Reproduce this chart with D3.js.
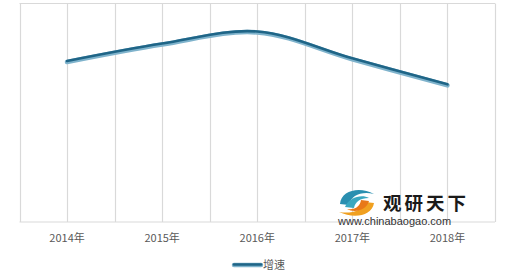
<!DOCTYPE html>
<html><head><meta charset="utf-8">
<script src="https://cdn.jsdelivr.net/npm/d3@7/dist/d3.min.js"></script>
<style>body{margin:0;background:#fff;}svg{display:block;font-family:"Noto Sans CJK SC","Liberation Sans",sans-serif;}</style>
</head><body>
<svg id="chart" width="520" height="272"></svg>
<script>
const categories = ["2014年","2015年","2016年","2017年","2018年"];
const growth = [7.37, 8.17, 8.72, 7.49, 6.30];
const seriesName = "增速";

const svg = d3.select("#chart");
const W = 520, H = 272;
const m = {left: 19.5, right: 25, top: 3.5, bottom: 50};
const x = d3.scaleBand().domain(categories).range([m.left, W - m.right]);
const y = d3.scaleLinear().domain([0, 10]).range([H - m.bottom, m.top]);

// gridlines: band edges and centres
const gx = [];
categories.forEach(c => { gx.push(x(c)); gx.push(x(c) + x.bandwidth()/2); });
gx.push(x.range()[1]);
svg.append("g").selectAll("line").data(gx).join("line")
  .attr("x1", d => Math.round(d)+0.5).attr("x2", d => Math.round(d)+0.5)
  .attr("y1", y(10)).attr("y2", y(0))
  .attr("stroke", "#d9d9d9").attr("stroke-width", 1.2);
svg.append("line").attr("x1", m.left).attr("x2", W - m.right)
  .attr("y1", y(10)).attr("y2", y(10)).attr("stroke", "#d9d9d9").attr("stroke-width", 1.2);
svg.append("line").attr("x1", m.left).attr("x2", W - m.right)
  .attr("y1", y(0)).attr("y2", y(0)).attr("stroke", "#d9d9d9").attr("stroke-width", 1.2);

// x axis labels
const xAxis = d3.axisBottom(x).tickSize(0).tickPadding(12);
const ax = svg.append("g").attr("transform", `translate(0,${y(0)})`).call(xAxis);
ax.select(".domain").remove();
ax.selectAll("text").attr("font-size", 11).attr("fill", "#595959")
  .attr("font-family", '"Noto Sans CJK SC","Liberation Sans",sans-serif');

// watermark
const wm = svg.append("g");
wm.append("path").attr("d", "M340,204 C341,190 360,186 374,194 C362,191 351,195 349,205 Z").attr("fill", "#2a8fb0");
wm.append("path").attr("d", "M345,207 C349,197 362,194 369,198 C360,198 355,202 354,208 Z").attr("fill", "#3aa7c0");
wm.append("path").attr("d", "M374,203 C372,216 354,219 339,212 C351,214 362,211 365,202 Z").attr("fill", "#f0a020");
wm.append("path").attr("d", "M369,201 C366,211 354,213 347,209 C356,210 360,206 361,200 Z").attr("fill", "#e87818");
wm.append("text").attr("x", 383).attr("y", 209.5).attr("font-size", 18.5).attr("font-weight", "bold")
  .attr("fill", "#1a1a1a").attr("letter-spacing", 3).text("观研天下");
wm.append("text").attr("x", 338).attr("y", 224.5).attr("font-size", 11)
  .attr("font-family", '"Liberation Sans",sans-serif').attr("fill", "#333").text("www.chinabaogao.com");

// line
const line = d3.line().x((d, i) => x(categories[i]) + x.bandwidth()/2).y(d => y(d))
  .curve(d3.curveCatmullRom.alpha(0.5));
svg.append("path").datum(growth).attr("d", line).attr("fill", "none")
  .attr("stroke", "#7fb3cc").attr("stroke-width", 4.5).attr("stroke-linecap", "round")
  .attr("transform", "translate(0,1)");
svg.append("path").datum(growth).attr("d", line).attr("fill", "none")
  .attr("stroke", "#1f6587").attr("stroke-width", 2.6).attr("stroke-linecap", "round");

// legend
const lg = svg.append("g");
lg.append("line").attr("x1", 234).attr("x2", 261).attr("y1", 265).attr("y2", 265)
  .attr("stroke", "#7fb3cc").attr("stroke-width", 4.5).attr("stroke-linecap", "round");
lg.append("line").attr("x1", 234).attr("x2", 261).attr("y1", 264.5).attr("y2", 264.5)
  .attr("stroke", "#1f6587").attr("stroke-width", 2.6).attr("stroke-linecap", "round");
lg.append("text").attr("x", 263).attr("y", 268.5).attr("font-size", 11).attr("fill", "#595959").text(seriesName);
</script>
</body></html>
